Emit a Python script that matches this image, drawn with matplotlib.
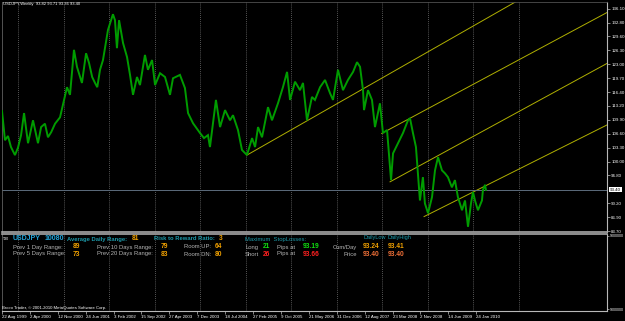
import matplotlib
matplotlib.use("Agg")
import matplotlib.pyplot as plt
import matplotlib.dates as mdates
import matplotlib.transforms as mtransforms
from datetime import datetime

plt.rcParams["font.family"] = ["Liberation Sans", "DejaVu Sans"]

# weekly USDJPY
price_dates = [
    "1999-08-22", "1999-09-15", "1999-10-09", "1999-11-02", "1999-12-04", "1999-12-28",
    "2000-01-22", "2000-02-15", "2000-03-18", "2000-04-27", "2000-06-06", "2000-07-01",
    "2000-08-01", "2000-08-25", "2000-09-20", "2000-10-21", "2000-11-30", "2001-01-01",
    "2001-01-25", "2001-02-18", "2001-03-22", "2001-04-15", "2001-05-25", "2001-06-27",
    "2001-07-21", "2001-08-15", "2001-09-07", "2001-09-25", "2001-10-17", "2001-11-10",
    "2001-12-20", "2002-01-29", "2002-02-14", "2002-03-02", "2002-03-19", "2002-04-20",
    "2002-05-22", "2002-06-15", "2002-07-09", "2002-08-10", "2002-09-03", "2002-10-13",
    "2002-11-06", "2002-12-09", "2003-01-02", "2003-02-11", "2003-03-23", "2003-05-02",
    "2003-05-26", "2003-07-21", "2003-08-30", "2003-09-24", "2003-11-03", "2003-12-29",
    "2004-01-30", "2004-03-02", "2004-03-18", "2004-05-05", "2004-06-07", "2004-07-17",
    "2004-08-26", "2004-09-19", "2004-10-29", "2004-11-30", "2005-01-09", "2005-02-19",
    "2005-03-15", "2005-04-08", "2005-05-10", "2005-06-27", "2005-07-29", "2005-09-15",
    "2005-10-25", "2005-11-27", "2005-12-21", "2006-01-30", "2006-03-11", "2006-04-04",
    "2006-05-06", "2006-06-15", "2006-07-09", "2006-08-19", "2006-09-28", "2006-11-07",
    "2006-12-01", "2007-01-10", "2007-02-19", "2007-03-31", "2007-05-11", "2007-06-12",
    "2007-07-06", "2007-07-30", "2007-08-07", "2007-09-08", "2007-10-10", "2007-11-03",
    "2007-12-13", "2008-01-06", "2008-02-08", "2008-03-03", "2008-03-11", "2008-03-27",
    "2008-05-06", "2008-06-15", "2008-07-25", "2008-08-10", "2008-09-03", "2008-09-27",
    "2008-10-13", "2008-10-29", "2008-11-22", "2008-12-08", "2009-01-02", "2009-02-03",
    "2009-02-27", "2009-03-23", "2009-04-24", "2009-05-18", "2009-06-11", "2009-07-13",
    "2009-08-06", "2009-08-30", "2009-10-02", "2009-10-26", "2009-11-19", "2009-12-13",
    "2009-12-29", "2010-01-14", "2010-02-07", "2010-03-11", "2010-03-19", "2010-04-05",
    "2010-04-12",
]
price_close = [
    112.0, 105.1, 106.1, 103.5, 101.6, 103.3,
    106.3, 111.5, 104.4, 109.8, 104.4, 108.2,
    109.0, 105.8, 107.0, 109.0, 110.5, 114.6,
    117.6, 115.8, 126.4, 122.4, 118.6, 125.6,
    123.3, 120.0, 118.6, 117.6, 121.7, 124.0,
    131.1, 134.8, 133.4, 126.8, 133.4, 128.0,
    124.7, 120.5, 115.8, 120.0, 118.1, 125.2,
    121.7, 124.0, 118.1, 120.9, 120.0, 115.8,
    119.7, 120.5, 117.4, 111.5, 109.1, 106.8,
    105.6, 106.3, 103.5, 114.6, 108.2, 112.2,
    109.8, 111.0, 107.5, 102.8, 101.6, 105.6,
    103.5, 108.2, 105.8, 112.9, 109.8, 113.8,
    117.6, 121.2, 114.6, 118.9, 116.9, 118.6,
    109.8, 115.3, 114.6, 117.6, 119.3, 116.2,
    114.6, 121.7, 116.9, 119.3, 121.2, 123.5,
    122.4, 116.9, 112.2, 116.9, 114.6, 108.2,
    113.8, 106.8, 107.5, 98.8, 95.7, 102.0,
    104.4, 106.8, 109.8, 110.3, 106.8, 103.5,
    97.3, 90.9, 96.4, 90.2, 87.9, 91.7,
    98.0, 101.1, 98.0, 97.3, 96.4, 94.0,
    95.7, 91.7, 88.6, 90.9, 84.7, 90.2,
    92.9, 90.9, 88.6, 90.9, 93.4, 94.6,
    93.4,
]

# trend channel lines drawn on the chart
chan_start_dates = ["2005-01-09", "2007-12-27", "2008-03-03", "2008-12-01"]
chan_start_prices = [101.6, 106.7, 95.3, 87.1]
chan_end_dates = ["2010-12-17", "2012-12-09", "2012-12-09", "2012-12-09"]
chan_end_prices = [137.9, 135.2, 123.2, 108.7]

price_ticks = [136.10, 132.80, 129.60, 126.30, 123.00, 119.70, 116.40, 113.20,
               109.90, 106.60, 103.30, 100.00, 96.80, 90.20, 86.90, 83.70]
current_price = 93.40

date_labels = ["22 Aug 1999", "2 Apr 2000", "12 Nov 2000", "24 Jun 2001", "3 Feb 2002",
               "15 Sep 2002", "27 Apr 2003", "7 Dec 2003", "18 Jul 2004", "27 Feb 2005",
               "9 Oct 2005", "21 May 2006", "31 Dec 2006", "12 Aug 2007", "23 Mar 2008",
               "2 Nov 2008", "14 Jun 2009", "24 Jan 2010"]
grid_years = list(range(2000, 2012))


def dnum(s, fmt="%Y-%m-%d"):
    return mdates.date2num(datetime.strptime(s, fmt))


W, H = 625, 321
fig = plt.figure(figsize=(W / 100, H / 100), dpi=100, facecolor="black")
ax = fig.add_axes([2 / W, 1 - 232 / H, 605 / W, 230 / H], facecolor="black")
ax2 = fig.add_axes([2 / W, 1 - 311 / H, 605 / W, 77 / H], facecolor="black")

x0 = mdates.date2num(datetime(1999, 8, 22))
x1 = x0 + 605 * 8.03
for a in (ax, ax2):
    a.set_xlim(x0, x1)
    for y in grid_years:
        a.axvline(mdates.date2num(datetime(y, 1, 1)), color="#8a8a8a", lw=0.5,
                  ls=(0, (1.2, 1.8)), zorder=1)
    a.spines["left"].set_color("#606060")
    a.spines["left"].set_linewidth(0.6)
    a.spines["right"].set_color("#b8b8b8")
    a.spines["right"].set_linewidth(0.8)

ax.set_ylim(83.47, 137.68)
px = [dnum(d) for d in price_dates]
ax.plot(px, price_close, color="#009c00", lw=1.4, solid_joinstyle="miter", zorder=3)

for sd, sp, ed, ep in zip(chan_start_dates, chan_start_prices, chan_end_dates, chan_end_prices):
    ax.plot([dnum(sd), dnum(ed)], [sp, ep], color="#b0b000", lw=0.7, zorder=2)

ax.axhline(current_price, color="#5c6c7c", lw=0.7, zorder=2)

ax.yaxis.tick_right()
ax.set_yticks(price_ticks)
ax.set_yticklabels([f"{v:.2f}" for v in price_ticks])
ax.tick_params(axis="y", colors="#c0c0c0", labelcolor="white", labelsize=3.2,
               length=2, width=0.5, pad=1)
ax.set_xticks([])
ax.spines["top"].set_color("#505050")
ax.spines["top"].set_linewidth(0.6)
ax.spines["bottom"].set_color("#a8a8a8")
ax.spines["bottom"].set_linewidth(1.2)

trans = mtransforms.blended_transform_factory(ax.transAxes, ax.transData)
ax.text(1.0 + 3 / 605, current_price, f"{current_price:.2f}", transform=trans,
        ha="left", va="center", fontsize=3.2, color="black",
        bbox=dict(fc="white", ec="none", pad=0.4), clip_on=False)

# lower indicator window
ax2.set_ylim(0, 1)
ax2.yaxis.tick_right()
ax2.set_yticks([0.98, 0.02])
ax2.set_yticklabels(["9000000", "9000000"])
ax2.tick_params(axis="y", colors="#c0c0c0", labelcolor="white", labelsize=2.6,
                length=1.5, width=0.5, pad=0.5)
ax2.set_xticks([dnum(s, "%d %b %Y") for s in date_labels])
ax2.set_xticklabels(date_labels, ha="left")
ax2.tick_params(axis="x", colors="#c0c0c0", labelcolor="white", labelsize=3.2,
                length=2, width=0.5, pad=0.8)
ax2.spines["top"].set_color("#a8a8a8")
ax2.spines["top"].set_linewidth(1.2)
ax2.spines["bottom"].set_color("#b8b8b8")
ax2.spines["bottom"].set_linewidth(0.8)


def put(px_, py_, s, color, size=4.2, bold=False, ha="left"):
    fig.text(px_ / W, 1 - py_ / H, s, color=color, fontsize=size, ha=ha, va="center",
             fontweight="bold" if bold else "normal")


teal = "#1c9aaa"
blue = "#22a4d8"
grey = "#b4b4b4"
orange = "#f0a000"
salmon = "#f07038"
green = "#10e010"
red = "#ff2020"

put(3, 4, "USDJPY,Weekly  93.82 93.71 93.36 93.40", "white", size=3.0)

put(3, 239, "T30", "white", size=2.6)
put(13, 239, "USDJPY", blue, size=5.0, bold=True)
put(45, 239, "10080", blue, size=5.0, bold=True)
put(67, 239, "Average Daily Range:", teal, bold=True)
put(132, 239, "81", orange, size=4.8, bold=True)
put(154, 239, "Risk to Reward Ratio:", teal, bold=True)
put(219, 239, "3", orange, size=4.8, bold=True)
put(245, 239, "Maximum  StopLosses:", teal)
put(363, 237, "DailyLow", teal, size=4.0)
put(388, 237, "DailyHigh", teal, size=4.0)

put(13, 247, "Prev 1 Day Range:", grey)
put(73, 247, "89", orange, size=4.8, bold=True)
put(97, 247, "Prev 10 Days Range:", grey)
put(161, 247, "79", orange, size=4.8, bold=True)
put(184, 247, "Room UP:", grey)
put(215, 247, "64", orange, size=4.8, bold=True)
put(245, 247, "Long", grey)
put(263, 247, "21", green, size=4.8, bold=True)
put(277, 247, "Pips at", grey)
put(303, 247, "93.19", green, size=4.8, bold=True)
put(357, 247, "Cum/Day", grey, ha="right")
put(363, 247, "93.24", orange, size=4.8, bold=True)
put(388, 247, "93.41", orange, size=4.8, bold=True)

put(13, 254, "Prev 5 Days Range:", grey)
put(73, 254, "73", orange, size=4.8, bold=True)
put(97, 254, "Prev 20 Days Range:", grey)
put(161, 254, "83", orange, size=4.8, bold=True)
put(184, 254, "Room DN:", grey)
put(215, 254, "80", orange, size=4.8, bold=True)
put(245, 254, "Short", grey)
put(263, 254, "26", red, size=4.8, bold=True)
put(277, 254, "Pips at", grey)
put(303, 254, "93.66", red, size=4.8, bold=True)
put(357, 254, "Price", grey, ha="right")
put(363, 254, "93.40", salmon, size=4.8, bold=True)
put(388, 254, "93.40", salmon, size=4.8, bold=True)

put(2, 308, "Broco Trader, \u00a9 2001-2010 MetaQuotes Software Corp.", "white", size=3.1)

fig.savefig("out.png", dpi=100, facecolor="black")
